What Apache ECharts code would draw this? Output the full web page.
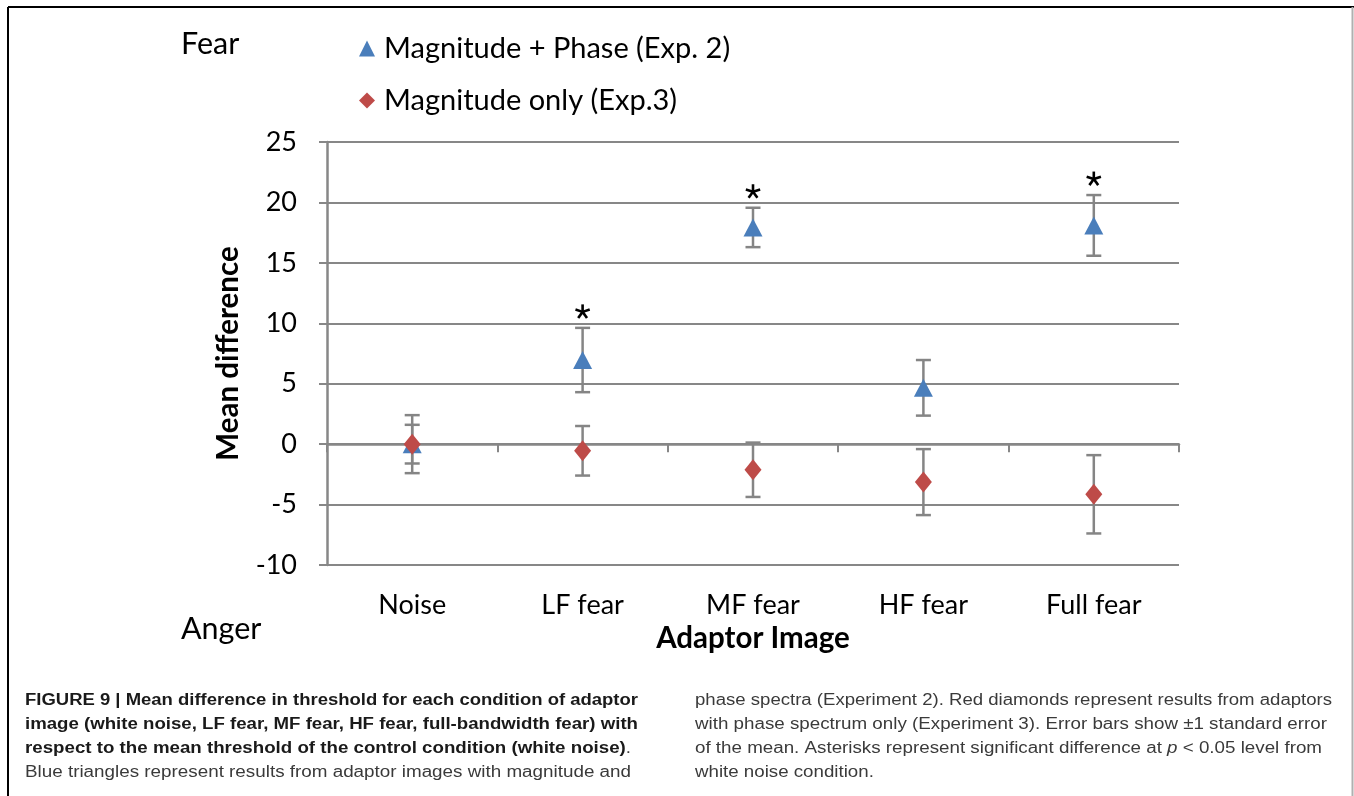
<!DOCTYPE html>
<html>
<head>
<meta charset="utf-8">
<script src="https://cdn.jsdelivr.net/npm/echarts@6/dist/echarts.min.js"></script>
<style>
html,body{margin:0;padding:0;background:#fff;}
#chart{width:1354px;height:796px;}
</style>
</head>
<body>
<div id="chart"></div>
<script>
// ---- data ----
const categories = ['Noise', 'LF fear', 'MF fear', 'HF fear', 'Full fear'];
const magPhaseMean = [0, 6.96, 17.93, 4.66, 18.1];
const magPhaseErr = [2.4, 2.66, 1.63, 2.3, 2.51];
const magOnlyMean = [0, -0.55, -2.12, -3.14, -4.15];
const magOnlyErr = [1.6, 2.05, 2.25, 2.73, 3.24];
const significant = [false, true, true, false, true];
const yMin = -10, yMax = 25, yStep = 5;
const seriesNames = ['Magnitude + Phase (Exp. 2)', 'Magnitude only (Exp.3)'];
const captionLeft = [
  [['b', 'FIGURE 9 | Mean difference in threshold for each condition of adaptor']],
  [['b', 'image (white noise, LF fear, MF fear, HF fear, full-bandwidth fear) with']],
  [['b', 'respect to the mean threshold of the control condition (white noise)'], ['n', '.']],
  [['n', 'Blue triangles represent results from adaptor images with magnitude and']]
];
const captionRight = [
  [['n', 'phase spectra (Experiment 2). Red diamonds represent results from adaptors']],
  [['n', 'with phase spectrum only (Experiment 3). Error bars show \u00b11 standard error']],
  [['n', 'of the mean. Asterisks represent significant difference at '], ['i', 'p'], ['n', ' < 0.05 level from']],
  [['n', 'white noise condition.']]
];

// ---- styling ----
const FONT = 'Lato, "Open Sans", "Noto Sans", sans-serif';
const CAP_FONT = '"Liberation Sans Narrow", "Liberation Sans", Arial, sans-serif';
const GRID_COLOR = '#878787';
const BLUE = '#4A7EBB';
const RED = '#BE4B48';

const chart = echarts.init(document.getElementById('chart'));

const blueData = magPhaseMean.map((v, i) => [i, v]);
const redData = magOnlyMean.map((v, i) => [i, v]);
const blueErr = magPhaseMean.map((v, i) => [i, v, magPhaseErr[i], significant[i] ? 1 : 0]);
const redErr = magOnlyMean.map((v, i) => [i, v, magOnlyErr[i], 0]);

function errRender(params, api) {
  const x = api.value(0), m = api.value(1), e = api.value(2), sig = api.value(3);
  const top = api.coord([x, m + e]);
  const bot = api.coord([x, m - e]);
  const hw = 7.5;
  const st = { stroke: '#858585', lineWidth: 2.5 };
  const children = [
    { type: 'line', shape: { x1: top[0], y1: top[1], x2: bot[0], y2: bot[1] }, style: st },
    { type: 'line', shape: { x1: top[0] - hw, y1: top[1], x2: top[0] + hw, y2: top[1] }, style: st },
    { type: 'line', shape: { x1: bot[0] - hw, y1: bot[1], x2: bot[0] + hw, y2: bot[1] }, style: st }
  ];
  if (sig) {
    // asterisk glyph drawn as spokes, centred above the upper cap
    const cx = top[0], cy = top[1] - 16, r = 7.5;
    const ast = { stroke: '#000', lineWidth: 2.6, lineCap: 'butt' };
    [90, 162, 234, 306, 18].forEach(function (deg) {
      const a = deg * Math.PI / 180;
      children.push({ type: 'line', shape: { x1: cx, y1: cy, x2: cx + r * Math.cos(a), y2: cy - r * Math.sin(a) }, style: ast });
    });
  }
  return { type: 'group', children: children };
}

// caption measurement
const mctx = document.createElement('canvas').getContext('2d');
function fontFor(kind, size) {
  if (kind === 'b') return 'bold ' + size + 'px ' + CAP_FONT;
  if (kind === 'i') return 'italic ' + size + 'px ' + CAP_FONT;
  return size + 'px ' + CAP_FONT;
}
const CAP_SIZE = 16;
function lineWidth(segs) {
  let w = 0;
  segs.forEach(s => { mctx.font = fontFor(s[0], CAP_SIZE); w += mctx.measureText(s[1]).width; });
  return w;
}
function captionEls(lines, x0, ends, y0) {
  const els = [];
  const scales = lines.map((l, i) => ends[i] ? (ends[i] - x0) / lineWidth(l) : null);
  const valid = scales.filter(s => s);
  const avg = valid.reduce((a, b) => a + b, 0) / valid.length;
  lines.forEach((segs, i) => {
    const sc = scales[i] || avg;
    let text = segs.map(s => '{' + s[0] + '|' + s[1] + '}').join('');
    els.push({
      type: 'text', left: x0, top: y0 + i * 24 - 9,
      scaleX: sc, originX: 0,
      style: {
        text: text,
        rich: {
          b: { fontFamily: CAP_FONT, fontSize: CAP_SIZE, fontWeight: 'bold', fill: '#1a1a1a' },
          n: { fontFamily: CAP_FONT, fontSize: CAP_SIZE, fill: '#3a3a3a' },
          i: { fontFamily: CAP_FONT, fontSize: CAP_SIZE, fontStyle: 'italic', fill: '#3a3a3a' }
        }
      }
    });
  });
  return els;
}

const graphics = [
  { type: 'line', shape: { x1: 8, y1: 7, x2: 1354, y2: 7 }, style: { stroke: '#000', lineWidth: 2 } },
  { type: 'line', shape: { x1: 8, y1: 7, x2: 8, y2: 796 }, style: { stroke: '#000', lineWidth: 2 } },
  { type: 'line', shape: { x1: 1352.5, y1: 7, x2: 1352.5, y2: 796 }, style: { stroke: '#b0b0b0', lineWidth: 2 } },
  { type: 'text', left: 181, top: 29, style: { text: 'Fear', fontFamily: FONT, fontSize: 30.5, fill: '#000' } },
  { type: 'text', left: 181, top: 614, style: { text: 'Anger', fontFamily: FONT, fontSize: 30.5, fill: '#000' } }
].concat(
  captionEls(captionLeft, 25, [638, 638, 631, 631], 702),
  captionEls(captionRight, 695, [1332, 1327, 1322, null], 702)
);

const option = {
  animation: false,
  backgroundColor: '#fff',
  grid: { left: 327, right: 175, top: 142, bottom: 231, containLabel: false },
  legend: {
    orient: 'vertical', left: 354, top: 29, itemGap: 23,
    itemWidth: 16, itemHeight: 16,
    textStyle: { fontFamily: FONT, fontSize: 29, color: '#000', padding: [0, 0, 0, 4] },
    data: [
      { name: seriesNames[0], icon: 'triangle', itemStyle: { color: BLUE } },
      { name: seriesNames[1], icon: 'diamond', itemStyle: { color: RED } }
    ]
  },
  xAxis: [
    {
      type: 'category', data: categories, position: 'bottom',
      axisLine: { show: false }, axisTick: { show: false },
      axisLabel: { fontFamily: FONT, fontSize: 27, color: '#000', margin: 27 },
      name: 'Adaptor Image', nameLocation: 'middle', nameGap: 56,
      nameTextStyle: { fontFamily: FONT, fontSize: 29.5, fontWeight: 'bold', color: '#000' }
    },
    {
      type: 'category', data: categories, position: 'bottom',
      axisLine: { show: true, onZero: true, onZeroAxisIndex: 0, lineStyle: { color: GRID_COLOR, width: 2.5 } },
      axisTick: { show: true, inside: false, length: 8, lineStyle: { color: GRID_COLOR, width: 2 } },
      axisLabel: { show: false }
    }
  ],
  yAxis: {
    type: 'value', min: yMin, max: yMax, interval: yStep,
    axisLine: { show: true, lineStyle: { color: GRID_COLOR, width: 2.5 } },
    axisTick: { show: true, length: 8, lineStyle: { color: GRID_COLOR, width: 2 } },
    splitLine: { show: true, lineStyle: { color: GRID_COLOR, width: 2 } },
    axisLabel: { fontFamily: FONT, fontSize: 27, color: '#000', margin: 30 },
    name: 'Mean difference', nameLocation: 'middle', nameGap: 84,
    nameTextStyle: { fontFamily: FONT, fontSize: 29.5, fontWeight: 'bold', color: '#000' }
  },
  series: [
    { type: 'custom', name: 'errBlue', renderItem: errRender, data: blueErr, z: 3, silent: true,
      encode: { x: 0, y: 1 } },
    { type: 'custom', name: 'errRed', renderItem: errRender, data: redErr, z: 3, silent: true,
      encode: { x: 0, y: 1 } },
    { type: 'scatter', name: seriesNames[0], data: blueData, symbol: 'triangle', symbolSize: [19, 18],
      itemStyle: { color: BLUE, opacity: 1 }, z: 5 },
    { type: 'scatter', name: seriesNames[1], data: redData, symbol: 'diamond', symbolSize: [17, 21],
      itemStyle: { color: RED, opacity: 1 }, z: 6 }
  ],
  graphic: graphics
};
chart.setOption(option);
</script>
</body>
</html>
